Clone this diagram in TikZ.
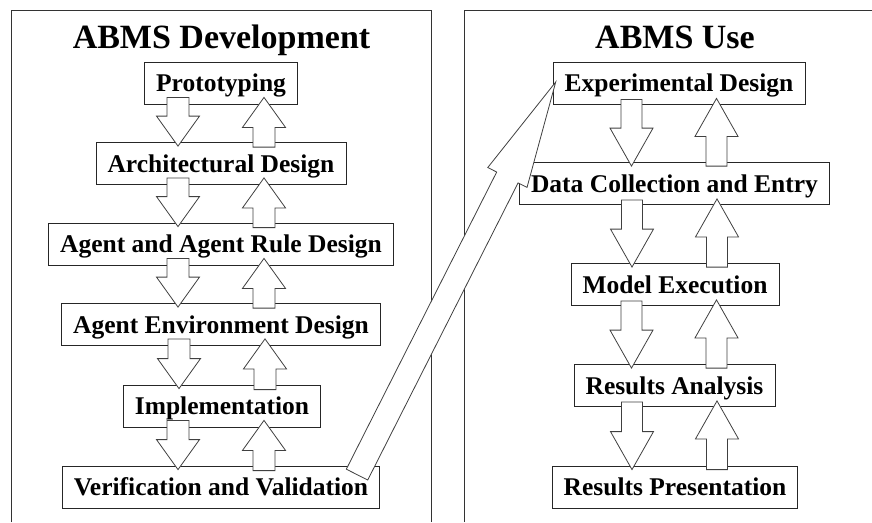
\documentclass[tikz,border=0pt]{standalone}
\usepackage{fontspec}
\setmainfont{Liberation Serif}
\usepackage{tikz}
\usetikzlibrary{positioning, calc, arrows.meta}

% hollow block arrow: tail, tip, shaft half width, head half width, head length
\newcommand{\hollowarrow}[5]{%
  \coordinate (neck) at ($(#2)!#5!(#1)$);
  \draw[blockarr] ($(#1)!#3!90:(#2)$) -- ($(neck)!#3!90:(#2)$) -- ($(neck)!#4!90:(#2)$)
    -- (#2) -- ($(neck)!#4!-90:(#2)$) -- ($(neck)!#3!-90:(#2)$) -- ($(#1)!#3!-90:(#2)$) -- cycle;
}

\begin{document}
\begin{tikzpicture}[x=1pt, y=1pt,
    stage/.style={draw=black!85, line width=0.8pt, fill=white, minimum height=42pt,
      inner xsep=11.5pt, text height=19pt, text depth=2pt,
      font=\fontsize{25.5}{30}\selectfont\bfseries},
    paneltitle/.style={anchor=base, inner sep=0pt, font=\fontsize{34}{40}\selectfont\bfseries},
    blockarr/.style={draw=black!75, line width=0.8pt, fill=white, line join=miter},
    panel/.style={draw=black!80, line width=0.8pt}]
    \useasboundingbox (0,0) rectangle (872,-522);

    % Draw the two panels
    \draw[panel] (11,-522) |- (431,-10) -- (431,-522);
    \draw[panel] (464,-522) |- (872,-10);

    % Panel titles
    \node[paneltitle] (devtitle) at (221.5,-48) {ABMS Development};
    \node[paneltitle] (usetitle) at (675,-48) {ABMS Use};

    % Development steps
    \node[stage] (proto) at (221,-83) {Prototyping};
    \node[stage] (archd) at (221,-163.5) {Architectural Design};
    \node[stage] (agentd) at (221,-244) {Agent and Agent Rule Design};
    \node[stage] (envd) at (221,-324.5) {Agent Environment Design};
    \node[stage] (impl) at (222,-406) {Implementation};
    \node[stage] (verval) at (221,-487) {Verification and Validation};

    % Use steps
    \node[stage] (expd) at (679,-83) {Experimental Design};
    \node[stage] (datac) at (674.5,-183.5) {Data Collection and Entry};
    \node[stage] (modex) at (675,-284.5) {Model Execution};
    \node[stage] (resan) at (674.5,-385.5) {Results Analysis};
    \node[stage] (respr) at (675,-487) {Results Presentation};

    % Arrows between development steps
    \foreach \a/\b in {proto/archd, archd/agentd, agentd/envd, envd/impl, impl/verval} {
        \coordinate (t) at ($(\b.north |- \a.south)+(-43,7)$);
        \coordinate (h) at ($(\b.north)+(-43,-4)$);
        \hollowarrow{t}{h}{11pt}{21.5pt}{30pt}
        \coordinate (t) at ($(\b.north)+(43,-5)$);
        \coordinate (h) at ($(\b.north |- \a.south)+(43,7)$);
        \hollowarrow{t}{h}{11pt}{21.5pt}{30pt}
    }

    % Arrows between use steps
    \foreach \a/\b in {expd/datac, datac/modex, modex/resan, resan/respr} {
        \coordinate (t) at ($(\b.north |- \a.south)+(-43,5)$);
        \coordinate (h) at ($(\b.north)+(-43,-4)$);
        \hollowarrow{t}{h}{10.5pt}{21.5pt}{38pt}
        \coordinate (t) at ($(\b.north)+(42,-4)$);
        \coordinate (h) at ($(\b.north |- \a.south)+(42,6)$);
        \hollowarrow{t}{h}{10.5pt}{21.5pt}{38pt}
    }

    % Long arrow from development to use
    \coordinate (bigtail) at ($(verval.north east)+(-23,-9)$);
    \coordinate (bighead) at ($(expd.west)+(3,1)$);
    \hollowarrow{bigtail}{bighead}{12pt}{22pt}{107pt}
\end{tikzpicture}
\end{document}
